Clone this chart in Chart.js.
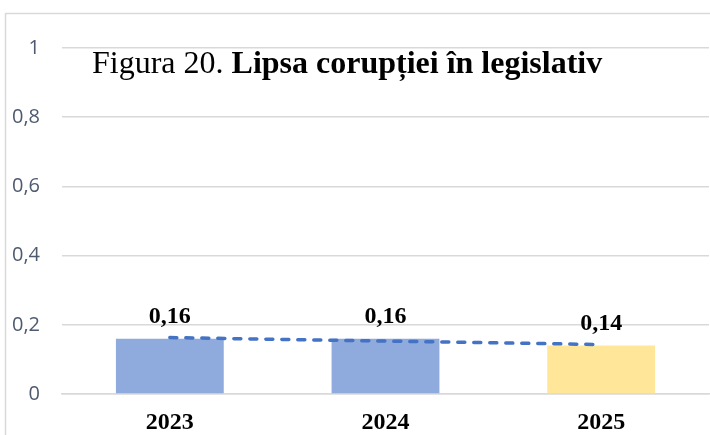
<!DOCTYPE html>
<html><head><meta charset="utf-8">
<script src="https://cdn.jsdelivr.net/npm/chart.js@4/dist/chart.umd.min.js"></script>
<style>html,body{margin:0;padding:0;background:#fff;}#wrap{width:710px;height:435px;position:relative;}</style>
</head><body>
<div id="wrap"><canvas id="c" width="710" height="435"></canvas></div>
<script>
const categories = ['2023', '2024', '2025'];
const values = [0.16, 0.16, 0.14];
const trendValues = [0.163, 0.153, 0.143];
const yTicks = [0, 0.2, 0.4, 0.6, 0.8, 1];
const titleNormal = 'Figura 20. ';
const titleBold = 'Lipsa corupției în legislativ';
const barColors = ['#8faadc', '#8faadc', '#ffe699'];

const fmt = v => String(Math.round(v * 100) / 100).replace('.', ',');

const decor = {
  id: 'decor',
  beforeDraw(chart) {
    const ctx = chart.ctx;
    ctx.save();
    ctx.strokeStyle = '#d9d9d9';
    ctx.lineWidth = 1.5;
    ctx.beginPath();
    ctx.moveTo(5.5, 440);
    ctx.lineTo(5.5, 13.5);
    ctx.lineTo(720, 13.5);
    ctx.stroke();
    ctx.restore();
  },
  afterDraw(chart) {
    const ctx = chart.ctx;
    ctx.save();
    ctx.fillStyle = '#000';
    ctx.textBaseline = 'alphabetic';
    ctx.textAlign = 'left';
    ctx.font = '32px "Liberation Serif", "Times New Roman", serif';
    const x0 = 92, yb = 73;
    ctx.fillText(titleNormal, x0, yb);
    const w = ctx.measureText(titleNormal).width;
    ctx.font = 'bold 32px "Liberation Serif", "Times New Roman", serif';
    ctx.fillText(titleBold, x0 + w, yb);
    const meta = chart.getDatasetMeta(0);
    ctx.font = 'bold 24px "Liberation Serif", "Times New Roman", serif';
    ctx.textAlign = 'center';
    meta.data.forEach((bar, i) => {
      ctx.fillText(fmt(values[i]), bar.x, bar.y - 16);
    });
    ctx.restore();
  }
};

new Chart(document.getElementById('c'), {
  data: {
    labels: categories,
    datasets: [
      {
        type: 'bar',
        data: values,
        backgroundColor: barColors,
        categoryPercentage: 1,
        barPercentage: 0.5,
        order: 2
      },
      {
        type: 'line',
        data: trendValues,
        borderColor: '#4472c4',
        borderWidth: 3.5,
        borderDash: [7, 9],
        borderCapStyle: 'round',
        pointRadius: 0,
        fill: false,
        tension: 0,
        order: 1
      }
    ]
  },
  options: {
    responsive: false,
    animation: false,
    layout: { padding: { top: 48, right: 1, bottom: 0, left: 0 } },
    plugins: { legend: { display: false }, tooltip: { enabled: false }, title: { display: false } },
    scales: {
      x: {
        grid: { display: false, drawTicks: false },
        border: { display: true, color: '#d9d9d9', width: 1.5 },
        ticks: {
          color: '#000',
          font: { family: '"Liberation Serif", "Times New Roman", serif', size: 24, weight: 'bold' },
          padding: 14
        },
        afterFit(s) { s.height = 41; }
      },
      y: {
        min: 0, max: 1,
        afterBuildTicks(s) { s.ticks = yTicks.map(v => ({ value: v })); },
        grid: { color: '#d9d9d9', lineWidth: 1.5, drawTicks: false },
        border: { display: false },
        ticks: {
          color: '#4e5a6e',
          font: { family: '"Open Sans", sans-serif', size: 20 },
          padding: 22,
          callback: v => fmt(v)
        },
        afterFit(s) { s.width = 62; }
      }
    }
  },
  plugins: [decor]
});
</script>
</body></html>
